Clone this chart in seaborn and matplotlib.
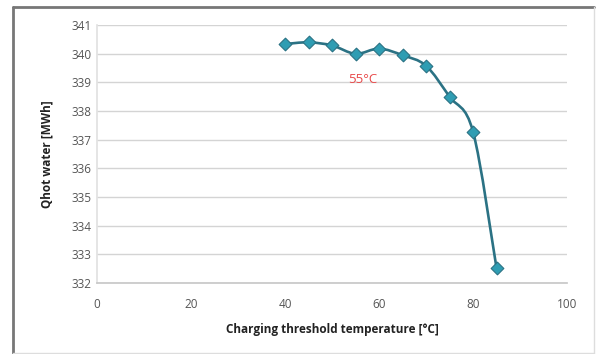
import numpy as np
import pandas as pd
import matplotlib
matplotlib.use("Agg")
import matplotlib.pyplot as plt
import seaborn as sns
from matplotlib.path import Path
from matplotlib.patches import PathPatch
from matplotlib.lines import Line2D

# Data
temperature = [40, 45, 50, 55, 60, 65, 70, 75, 80, 85]
q_hot_water = [340.34, 340.40, 340.29, 340.00, 340.18, 339.95, 339.58, 338.50, 337.28, 332.52]
x_ticks = [0, 20, 40, 60, 80, 100]
y_ticks = [332, 333, 334, 335, 336, 337, 338, 339, 340, 341]
annotation_text = "55°C"

df = pd.DataFrame({"T": temperature, "Q": q_hot_water})

sns.set_theme(style="white")
plt.rcParams["font.family"] = ["Open Sans", "DejaVu Sans"]

fig = plt.figure(figsize=(6.0, 3.54), dpi=100)
ax = fig.add_axes([0.162, 0.2006, 0.783, 0.7284])

line_col = "#2b7284"
marker_col = "#2f9db3"

# Smooth curve (Excel-style smoothed line) through data points via Bezier segments
xs = np.array(temperature, dtype=float)
ys = np.array(q_hot_water, dtype=float)
n = len(xs)
verts = [(xs[0], ys[0])]
codes = [Path.MOVETO]
for i in range(n - 1):
    p0 = np.array([xs[max(i - 1, 0)], ys[max(i - 1, 0)]])
    p1 = np.array([xs[i], ys[i]])
    p2 = np.array([xs[i + 1], ys[i + 1]])
    p3 = np.array([xs[min(i + 2, n - 1)], ys[min(i + 2, n - 1)]])
    c1 = p1 + (p2 - p0) / 6.0
    c2 = p2 - (p3 - p1) / 6.0
    verts += [tuple(c1), tuple(c2), tuple(p2)]
    codes += [Path.CURVE4] * 3
ax.add_patch(PathPatch(Path(verts, codes), fill=False, edgecolor=line_col, lw=1.9, zorder=3))

sns.scatterplot(data=df, x="T", y="Q", ax=ax, marker="D", s=42, color=marker_col,
                edgecolor=line_col, linewidth=0.8, zorder=4, legend=False)

ax.set_xlim(0, 100)
ax.set_ylim(332, 341)
ax.set_xticks(x_ticks)
ax.set_yticks(y_ticks)
ax.tick_params(axis="both", labelsize=8.5, colors="#555555", length=3, width=0.8)
ax.tick_params(axis="x", pad=8)
ax.tick_params(axis="y", pad=4)
ax.yaxis.grid(True, color="#d4d4d4", lw=1.0)
ax.xaxis.grid(False)
for s in ["top", "right"]:
    ax.spines[s].set_visible(False)
ax.spines["left"].set_color("#e2e2e2")
ax.spines["bottom"].set_color("#c8c8c8")
ax.tick_params(axis="y", colors="#555555", length=0)
ax.tick_params(axis="x", colors="#c8c8c8", labelcolor="#555555", direction="inout", length=5)

ax.set_xlabel("Charging threshold temperature [°C]", fontsize=8.5, fontweight="bold", color="#222222", labelpad=9)
ax.set_ylabel("Qhot water [MWh]", fontsize=8.5, fontweight="bold", color="#222222", labelpad=13)

ax.text(56.5, 339.1, annotation_text, color="#e84848", fontsize=9.5, ha="center", va="center")

# outer frame: darker top/left, lighter right/bottom
fig.add_artist(Line2D([0.021, 0.99], [0.98, 0.98], transform=fig.transFigure, color="#777777", lw=2.0))
fig.add_artist(Line2D([0.021, 0.021], [0.004, 0.98], transform=fig.transFigure, color="#777777", lw=2.0))
fig.add_artist(Line2D([0.99, 0.99], [0.004, 0.98], transform=fig.transFigure, color="#dddddd", lw=1.0))
fig.add_artist(Line2D([0.021, 0.99], [0.004, 0.004], transform=fig.transFigure, color="#dddddd", lw=1.0))

fig.savefig("out.png", dpi=100)
